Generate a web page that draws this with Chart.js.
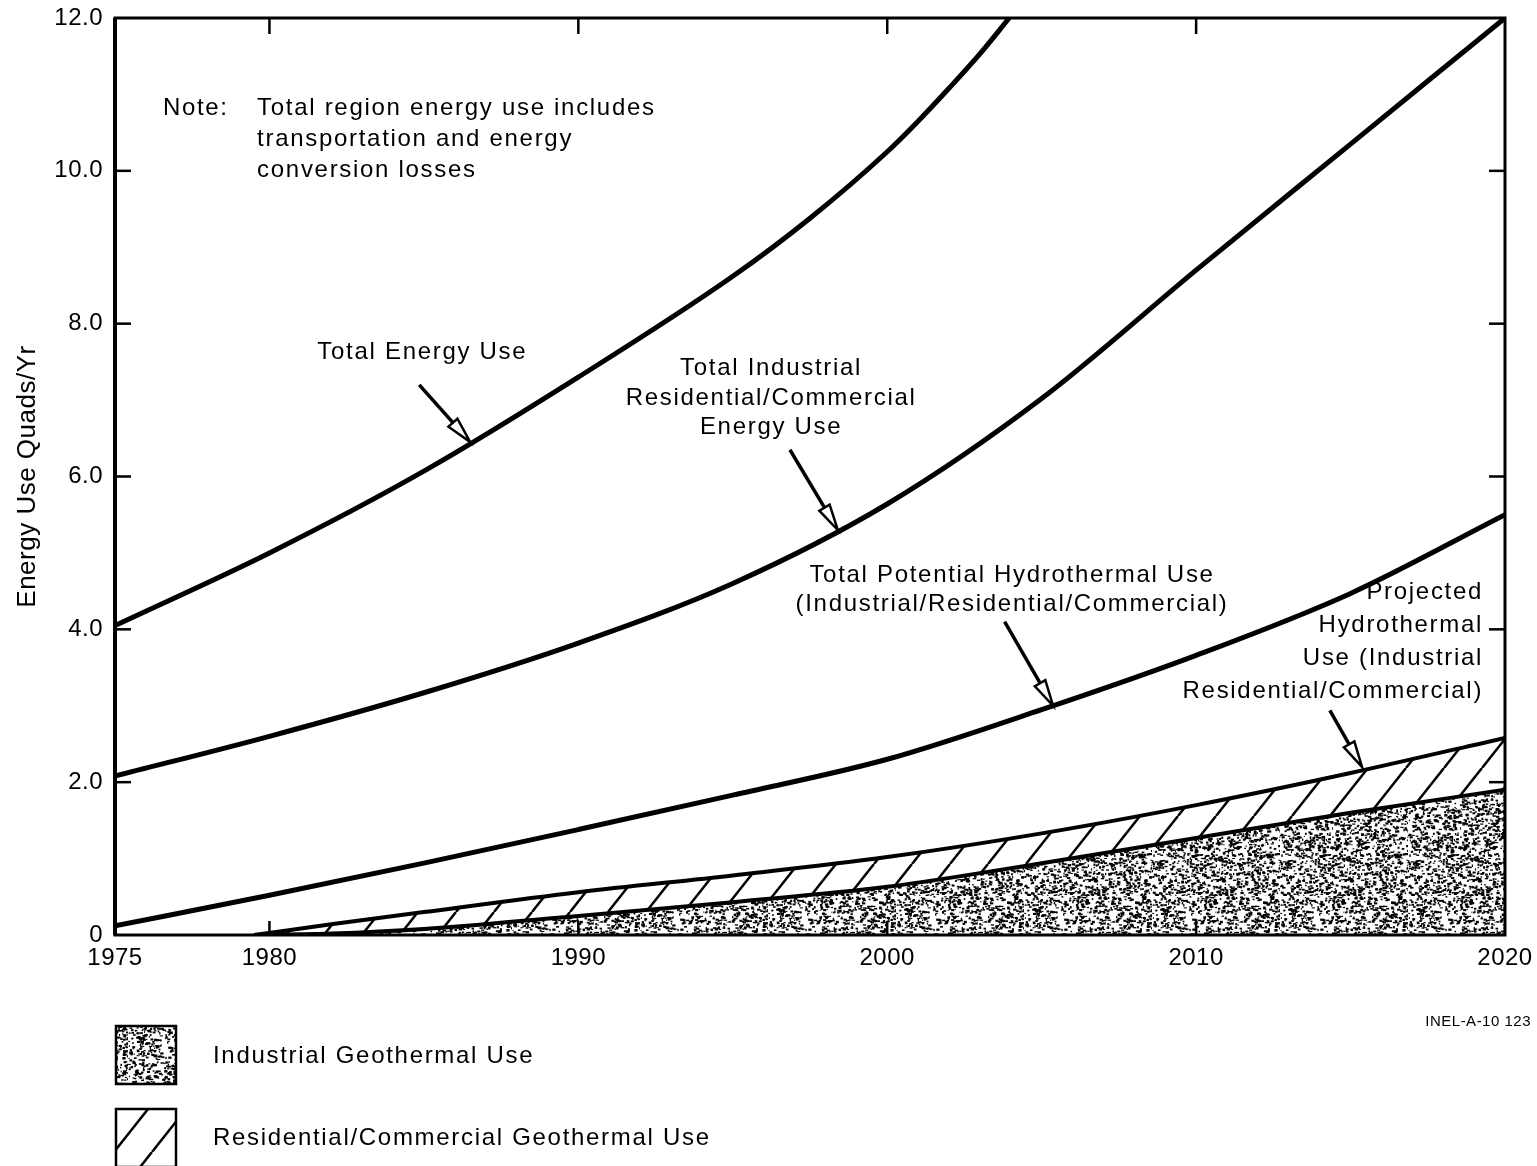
<!DOCTYPE html>
<html>
<head>
<meta charset="utf-8">
<title>Geothermal Energy Use</title>
<script src="https://cdn.jsdelivr.net/npm/chart.js@4.4.1/dist/chart.umd.min.js"></script>
<style>
  html, body { margin: 0; padding: 0; background: #fff; }
  canvas { display: block; }
</style>
</head>
<body>
<canvas id="myChart" width="1537" height="1166"></canvas>
<script>
// Values (quads per year)
var years = [1975, 1980, 1985, 1990, 1995, 2000, 2005, 2010, 2015, 2020];
var totalEnergyYears = [1975, 1980, 1985, 1990, 1995, 1997.5, 2000, 2001, 2002, 2003, 2003.95];
var totalEnergy = [4.05, 5.0, 6.07, 7.3, 8.62, 9.38, 10.25, 10.65, 11.08, 11.53, 12.0];
var totalIndResCom = [2.08, 2.6, 3.17, 3.82, 4.6, 5.64, 7.02, 8.7, 10.35, 12.0];
var totalPotentialHydro = [0.12, 0.52, 0.94, 1.38, 1.83, 2.3, 2.95, 3.66, 4.47, 5.5];

// Geothermal bands start around 1980
var geoYears = [1979.5, 1982, 1985, 1990, 1995, 2000, 2005, 2010, 2015, 2020];
var projectedHydro = [0, 0.14, 0.3, 0.56, 0.78, 1.02, 1.33, 1.7, 2.12, 2.58];
var industrialGeo = [0, 0.02, 0.08, 0.25, 0.43, 0.63, 0.94, 1.27, 1.6, 1.9];

// Axis labels and inside tick marks
var xTickLabels = [1975, 1980, 1990, 2000, 2010, 2020];
var xTickMarks = [1980, 1990, 2000, 2010];
var yTickMarks = [2, 4, 6, 8, 10];

var FONT = "'Liberation Sans', Arial, Helvetica, sans-serif";

// Turns two arrays into {x, y} points
function toPoints(xs, ys)
{
    return ys.map(function(v, i) { return { x: xs[i], y: v }; });
}

var canvas = document.getElementById('myChart');
var ctx = canvas.getContext('2d');

// Speckled texture for the industrial area (fixed seed so it looks the same every time)
function makeStipple()
{
    var c = document.createElement('canvas');
    c.width = 128; c.height = 128;
    var g = c.getContext('2d');
    g.fillStyle = '#fff';
    g.fillRect(0, 0, 128, 128);
    g.fillStyle = '#000';
    var seed = 7;
    function next() { seed = (seed * 16807) % 2147483647; return seed / 2147483647; }
    for (var i = 0; i < 2000; i++) {
        var x = next() * 128, y = next() * 128;
        g.fillRect(x, y, 1 + next() * 2.5, 1 + next() * 1.5);
    }
    return ctx.createPattern(c, 'repeat');
}

// Diagonal hatching for the residential/commercial band
function makeHatch()
{
    var w = 38, h = 48;
    var c = document.createElement('canvas');
    c.width = w; c.height = h;
    var g = c.getContext('2d');
    g.fillStyle = '#fff';
    g.fillRect(0, 0, w, h);
    g.strokeStyle = '#000';
    g.lineWidth = 2.5;
    for (var k = -1; k <= 1; k++) {
        g.beginPath();
        g.moveTo(k * w, h);
        g.lineTo(k * w + w, 0);
        g.stroke();
    }
    return ctx.createPattern(c, 'repeat');
}

var stipple = makeStipple();
var hatch = makeHatch();

// Labels with arrows, placed in data units
var annotations = [
    { lines: ['Total Energy Use'], x: 1984.95, y: 7.63, align: 'center', lh: 30,
      tail: [1984.85, 7.2], tip: [1986.5, 6.45] },
    { lines: ['Total Industrial', 'Residential/Commercial', 'Energy Use'], x: 1996.24, y: 7.41, align: 'center', lh: 29.5,
      tail: [1996.85, 6.35], tip: [1998.4, 5.3] },
    { lines: ['Total Potential Hydrothermal Use', '(Industrial/Residential/Commercial)'], x: 2004.04, y: 4.7, align: 'center', lh: 29,
      tail: [2003.8, 4.1], tip: [2005.37, 3.0] },
    { lines: ['Projected', 'Hydrothermal', 'Use (Industrial', 'Residential/Commercial)'], x: 2019.29, y: 4.49, align: 'right', lh: 33,
      tail: [2014.33, 2.94], tip: [2015.37, 2.2] }
];

var noteLabel = { text: 'Note:', x: 1976.55, y: 10.82 };
var noteLines = { lines: ['Total region energy use includes', 'transportation and energy', 'conversion losses'], x: 1979.6, y: 10.82, lh: 31 };

function strokeLine(c, x1, y1, x2, y2)
{
    c.beginPath();
    c.moveTo(x1, y1);
    c.lineTo(x2, y2);
    c.stroke();
}

// Shaft plus a narrow hollow arrow head
function drawArrow(c, x1, y1, x2, y2)
{
    var ang = Math.atan2(y2 - y1, x2 - x1);
    var headLen = 26, headW = 6;
    var bx = x2 - headLen * Math.cos(ang), by = y2 - headLen * Math.sin(ang);
    c.lineWidth = 3.5;
    strokeLine(c, x1, y1, bx, by);
    c.beginPath();
    c.moveTo(x2, y2);
    c.lineTo(bx + headW * Math.sin(ang), by - headW * Math.cos(ang));
    c.lineTo(bx - headW * Math.sin(ang), by + headW * Math.cos(ang));
    c.closePath();
    c.fillStyle = '#fff';
    c.fill();
    c.lineWidth = 2.5;
    c.stroke();
}

var figurePlugin = {
    id: 'figure',
    beforeDraw: function(chart) {
        chart.ctx.letterSpacing = '0.5px';
    },
    afterDatasetsDraw: function(chart) {
        var c = chart.ctx, a = chart.chartArea;
        var xs = chart.scales.x, ys = chart.scales.y;
        c.save();
        c.strokeStyle = '#000';

        // Frame round the plot, left side a bit heavier
        c.lineWidth = 3;
        c.strokeRect(a.left, a.top, a.right - a.left, a.bottom - a.top);
        c.lineWidth = 4;
        strokeLine(c, a.left, a.top, a.left, a.bottom);

        // Inside tick marks on all four sides
        c.lineWidth = 2.5;
        xTickMarks.forEach(function(v) {
            var px = xs.getPixelForValue(v);
            strokeLine(c, px, a.top, px, a.top + 16);
            strokeLine(c, px, a.bottom, px, a.bottom - 14);
        });
        yTickMarks.forEach(function(v) {
            var py = ys.getPixelForValue(v);
            strokeLine(c, a.left, py, a.left + 16, py);
            strokeLine(c, a.right, py, a.right - 16, py);
        });
        c.restore();
    },
    afterDraw: function(chart) {
        var c = chart.ctx;
        var xs = chart.scales.x, ys = chart.scales.y;
        c.save();
        c.fillStyle = '#000';
        c.strokeStyle = '#000';
        c.font = '24px ' + FONT;
        c.letterSpacing = '1.7px';
        c.textBaseline = 'middle';

        // Note in the top left corner
        c.textAlign = 'left';
        c.fillText(noteLabel.text, xs.getPixelForValue(noteLabel.x), ys.getPixelForValue(noteLabel.y));
        var ny = ys.getPixelForValue(noteLines.y);
        noteLines.lines.forEach(function(t, i) {
            c.fillText(t, xs.getPixelForValue(noteLines.x), ny + i * noteLines.lh);
        });

        // Curve labels and their arrows
        annotations.forEach(function(n) {
            c.textAlign = n.align;
            var px = xs.getPixelForValue(n.x), py = ys.getPixelForValue(n.y);
            n.lines.forEach(function(t, i) {
                c.fillStyle = '#000';
                c.fillText(t, px, py + i * n.lh);
            });
            drawArrow(c, xs.getPixelForValue(n.tail[0]), ys.getPixelForValue(n.tail[1]),
                xs.getPixelForValue(n.tip[0]), ys.getPixelForValue(n.tip[1]));
        });

        // Figure number
        c.fillStyle = '#000';
        c.font = '15px ' + FONT;
        c.letterSpacing = '0.5px';
        c.textAlign = 'right';
        c.fillText('INEL-A-10 123', 1531, 1022);

        // Legend boxes under the chart
        c.lineWidth = 2.5;
        c.fillStyle = stipple;
        c.fillRect(116, 1026, 60, 58);
        c.strokeRect(116, 1026, 60, 58);
        c.fillStyle = hatch;
        c.fillRect(116, 1109, 60, 58);
        c.strokeRect(116, 1109, 60, 58);

        c.fillStyle = '#000';
        c.font = '24px ' + FONT;
        c.letterSpacing = '1.7px';
        c.textAlign = 'left';
        c.fillText('Industrial Geothermal Use', 213, 1056);
        c.fillText('Residential/Commercial Geothermal Use', 213, 1138);
        c.restore();
    }
};

Chart.defaults.color = '#000';
Chart.defaults.font.family = FONT;

var lineStyle = {
    borderColor: '#000',
    pointRadius: 0,
    cubicInterpolationMode: 'monotone'
};

var config = {
    type: 'line',
    data: {
        datasets: [
            Object.assign({ label: 'Industrial Geothermal Use', data: toPoints(geoYears, industrialGeo),
                borderWidth: 4, fill: 'origin', backgroundColor: stipple }, lineStyle),
            Object.assign({ label: 'Projected Hydrothermal Use', data: toPoints(geoYears, projectedHydro),
                borderWidth: 4, fill: '-1', backgroundColor: hatch }, lineStyle),
            Object.assign({ label: 'Total Potential Hydrothermal Use', data: toPoints(years, totalPotentialHydro),
                borderWidth: 5, fill: false }, lineStyle),
            Object.assign({ label: 'Total Industrial Residential/Commercial Energy Use', data: toPoints(years, totalIndResCom),
                borderWidth: 5, fill: false }, lineStyle),
            Object.assign({ label: 'Total Energy Use', data: toPoints(totalEnergyYears, totalEnergy),
                borderWidth: 5, fill: false }, lineStyle)
        ]
    },
    options: {
        responsive: false,
        animation: false,
        devicePixelRatio: 1,
        layout: { padding: { top: 18, right: 32, left: 0, bottom: 0 } },
        plugins: {
            legend: { display: false },
            tooltip: { enabled: false }
        },
        scales: {
            x: {
                type: 'linear',
                min: 1975,
                max: 2020,
                afterBuildTicks: function(scale) {
                    scale.ticks = xTickLabels.map(function(v) { return { value: v }; });
                },
                afterFit: function(scale) {
                    scale.height = 231;
                    scale.paddingLeft = 0;
                    scale.paddingRight = 0;
                },
                grid: { display: false, drawTicks: false },
                border: { display: false },
                ticks: {
                    autoSkip: false,
                    maxRotation: 0,
                    padding: 9,
                    font: { size: 24 },
                    callback: function(v) { return String(v); }
                }
            },
            y: {
                min: 0,
                max: 12,
                afterFit: function(scale) {
                    scale.width = 115;
                    scale.paddingTop = 0;
                    scale.paddingBottom = 0;
                },
                grid: { display: false, drawTicks: false },
                border: { display: false },
                ticks: {
                    stepSize: 2,
                    padding: 12,
                    font: { size: 24 },
                    callback: function(v) { return v === 0 ? '0' : v.toFixed(1); }
                },
                title: {
                    display: true,
                    text: 'Energy Use Quads/Yr',
                    font: { size: 26 },
                    padding: { top: 12, bottom: 0 }
                }
            }
        }
    },
    plugins: [figurePlugin]
};

var chart = new Chart(ctx, config);
</script>
</body>
</html>
